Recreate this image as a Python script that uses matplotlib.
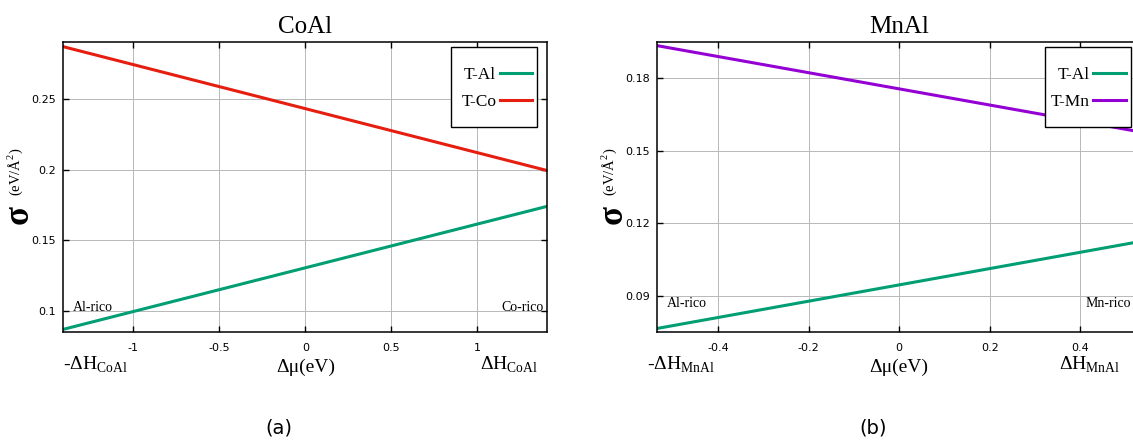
import numpy as np
import matplotlib
matplotlib.use("Agg")
import matplotlib.pyplot as plt
from matplotlib.patches import Rectangle

plt.rcParams["mathtext.fontset"] = "custom"
plt.rcParams["mathtext.rm"] = "Liberation Serif"
SERIF = "Liberation Serif"

# ---- data ----
# CoAl: chemical potential range is +/- dH_CoAl
dH_coal = 1.407
mu_coal = [-dH_coal, dH_coal]
coal_TAl = [0.0873, 0.1741]
coal_TCo = [0.2867, 0.1993]
coal_ylim = (0.0852, 0.2898)
coal_xticks = [-1, -0.5, 0, 0.5, 1]
coal_xticklabels = ["-1", "-0.5", "0", "0.5", "1"]
coal_yticks = [0.1, 0.15, 0.2, 0.25]
coal_yticklabels = ["0.1", "0.15", "0.2", "0.25"]

# MnAl
dH_mnal = 0.534
mu_mnal = [-dH_mnal, dH_mnal]
mnal_TAl = [0.0766, 0.1126]
mnal_TMn = [0.1935, 0.1578]
mnal_ylim = (0.0750, 0.1949)
mnal_xticks = [-0.4, -0.2, 0, 0.2, 0.4]
mnal_xticklabels = ["-0.4", "-0.2", "0", "0.2", "0.4"]
mnal_yticks = [0.09, 0.12, 0.15, 0.18]
mnal_yticklabels = ["0.09", "0.12", "0.15", "0.18"]

GREEN = "#009e73"
RED = "#e51e10"
PURPLE = "#9400d3"

W, H = 1133, 443
fig = plt.figure(figsize=(W / 100, H / 100), dpi=100)


def px(x, y):
    # pixel (from top-left) -> figure fraction
    return x / W, 1 - y / H


def setup(ax, title, xticks, xtl, yticks, ytl, xlim, ylim):
    ax.set_xlim(*xlim)
    ax.set_ylim(*ylim)
    ax.set_xticks(xticks)
    ax.set_xticklabels(xtl)
    ax.set_yticks(yticks)
    ax.set_yticklabels(ytl)
    ax.tick_params(direction="in", length=4.5, width=1.0, top=True, right=True,
                   labelsize=8, colors="black")
    ax.tick_params(axis="x", pad=8)
    ax.tick_params(axis="y", pad=5)
    ax.grid(True, color="#b8b8b8", linewidth=0.7)
    ax.set_axisbelow(True)
    for s in ax.spines.values():
        s.set_linewidth(1.1)
    ax.set_title(title, family=SERIF, fontsize=18, pad=7)


def legend(ax):
    # gnuplot-like key: white box, label then sample line
    ax.add_patch(Rectangle((0.802, 0.707), 0.177, 0.276, transform=ax.transAxes,
                           facecolor="white", edgecolor="black", lw=1.0,
                           zorder=4.5))
    leg = ax.legend(loc="upper right", bbox_to_anchor=(0.968, 0.915),
                    borderaxespad=0, borderpad=0, markerfirst=False,
                    frameon=False, prop={"family": SERIF, "size": 12.5},
                    handlelength=1.85, handletextpad=0.2, labelspacing=0.63)
    leg.set_zorder(5)
    return leg


# ---- (a) CoAl ----
x0, y1 = px(63.3, 42.3)
x1, y0 = px(547.3, 332.3)
ax1 = fig.add_axes([x0, y0, x1 - x0, y1 - y0])
ax1.plot(mu_coal, coal_TAl, color=GREEN, lw=2.2, label="T-Al")
ax1.plot(mu_coal, coal_TCo, color=RED, lw=2.2, label="T-Co")
setup(ax1, "CoAl", coal_xticks, coal_xticklabels, coal_yticks, coal_yticklabels,
      (-dH_coal, dH_coal), coal_ylim)
legend(ax1)
ax1.text(-1.35, 0.1003, "Al-rico", family=SERIF, fontsize=10, va="baseline")
ax1.text(1.384, 0.1003, "Co-rico", family=SERIF, fontsize=10, va="baseline", ha="right")
tr = ax1.get_xaxis_transform()
ax1.text(-dH_coal, -0.128, r"-ΔH$_{\mathregular{CoAl}}$", transform=tr,
         family=SERIF, fontsize=14, va="baseline", ha="left")
ax1.text(0, -0.138, "Δμ(eV)", transform=tr, family=SERIF, fontsize=14,
         va="baseline", ha="center")
ax1.text(1.017, -0.128, r"ΔH$_{\mathregular{CoAl}}$", transform=tr,
         family=SERIF, fontsize=14, va="baseline", ha="left")

# ---- (b) MnAl ----
x0, y1 = px(657.3, 42.3)
x1, y0 = px(1141.0, 332.3)
ax2 = fig.add_axes([x0, y0, x1 - x0, y1 - y0])
ax2.plot(mu_mnal, mnal_TAl, color=GREEN, lw=2.2, label="T-Al")
ax2.plot(mu_mnal, mnal_TMn, color=PURPLE, lw=2.2, label="T-Mn")
setup(ax2, "MnAl", mnal_xticks, mnal_xticklabels, mnal_yticks, mnal_yticklabels,
      (-dH_mnal, dH_mnal), mnal_ylim)
legend(ax2)
ax2.text(-0.512, 0.0855, "Al-rico", family=SERIF, fontsize=10, va="baseline")
ax2.text(0.411, 0.0855, "Mn-rico", family=SERIF, fontsize=10, va="baseline")
tr = ax2.get_xaxis_transform()
ax2.text(-0.557, -0.128, r"-ΔH$_{\mathregular{MnAl}}$", transform=tr,
         family=SERIF, fontsize=14, va="baseline", ha="left")
ax2.text(0, -0.138, "Δμ(eV)", transform=tr, family=SERIF, fontsize=14,
         va="baseline", ha="center")
ax2.text(0.354, -0.128, r"ΔH$_{\mathregular{MnAl}}$", transform=tr,
         family=SERIF, fontsize=14, va="baseline", ha="left")

# ---- y labels: big sigma + small unit ----
for sx, ux in [(19, 15), (613, 609)]:
    fig.text(*px(sx, 215), "σ", family=SERIF, fontweight="bold", fontsize=25,
             rotation=90, ha="center", va="center")
    fig.text(*px(ux, 172), "(eV/Å$^2$)", family=SERIF, fontsize=10.5,
             rotation=90, ha="center", va="center")

# ---- panel tags ----
fig.text(*px(279, 428), "(a)", fontsize=14, ha="center", va="center")
fig.text(*px(873, 428), "(b)", fontsize=14, ha="center", va="center")

fig.savefig("out.png", dpi=100)
